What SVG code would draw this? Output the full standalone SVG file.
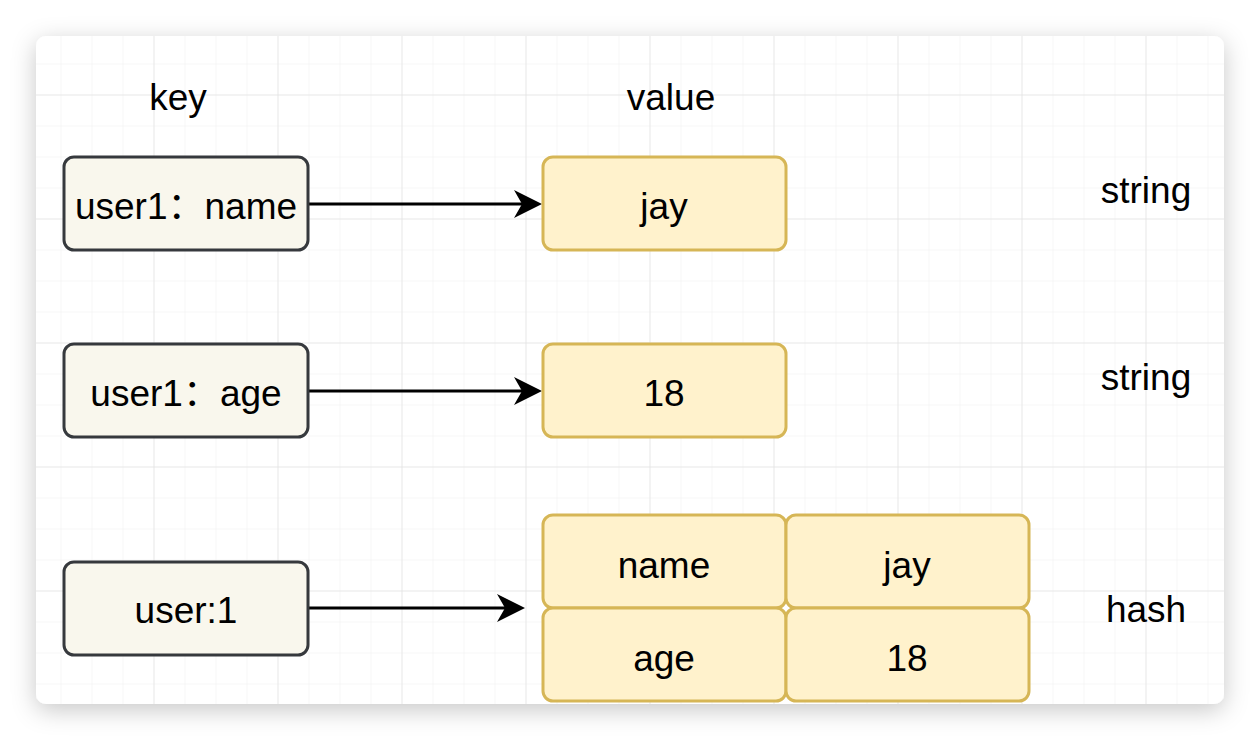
<svg xmlns="http://www.w3.org/2000/svg" width="1260" height="740" viewBox="0 0 1260 740">
  <defs>
    <filter id="shadow" x="-10%" y="-10%" width="120%" height="125%">
      <feDropShadow dx="0" dy="6" stdDeviation="12" flood-color="#000" flood-opacity="0.22"/>
    </filter>
    <pattern id="minor" patternUnits="userSpaceOnUse" width="31" height="31" x="29.5" y="32.5">
      <path d="M31,0 L0,0 L0,31" fill="none" stroke="#efefef" stroke-width="1"/>
    </pattern>
    <pattern id="major" patternUnits="userSpaceOnUse" width="124" height="124" x="29.5" y="-29.5">
      <path d="M124,0 L0,0 L0,124" fill="none" stroke="#dcdcdc" stroke-width="1"/>
    </pattern>
    <marker id="arrow" markerUnits="userSpaceOnUse" viewBox="0 0 28 28" refX="18" refY="14" markerWidth="28" markerHeight="28" orient="auto">
      <path d="M0,0 L28,14 L0,28 L8,14 Z" fill="#000"/>
    </marker>
    <style>
      text { font-family: "Liberation Sans", Arial, "Noto Sans CJK SC", sans-serif; font-size: 37px; fill: #000; text-anchor: middle; }
      .key { fill: #f9f7ed; stroke: #36393d; stroke-width: 3; }
      .val { fill: #fff2cc; stroke: #d6b656; stroke-width: 3; }
      .edge { fill: none; stroke: #000; stroke-width: 3; marker-end: url(#arrow); }
    </style>
  </defs>

  <rect x="0" y="0" width="1260" height="740" fill="#ffffff"/>
  <rect x="36" y="36" width="1188" height="668" rx="10" fill="#ffffff" filter="url(#shadow)"/>
  <rect x="36" y="36" width="1188" height="668" rx="10" fill="url(#minor)"/>
  <rect x="36" y="36" width="1188" height="668" rx="10" fill="url(#major)"/>

  <g id="labels">
    <text x="178" y="110">key</text>
    <text x="671" y="110">value</text>
    <text x="1146" y="203">string</text>
    <text x="1146" y="390">string</text>
    <text x="1146" y="622">hash</text>
  </g>

  <g id="connectors">
    <path class="edge" d="M308,204 L532,204"/>
    <path class="edge" d="M308,391 L532,391"/>
    <path class="edge" d="M308,608 L515,608"/>
  </g>

  <g id="key-user1-name">
    <rect class="key" x="64" y="157" width="244" height="93" rx="10"/>
    <text x="186" y="219">user1：name</text>
  </g>
  <g id="val-jay">
    <rect class="val" x="543" y="157" width="243" height="93" rx="10"/>
    <text x="664" y="219">jay</text>
  </g>

  <g id="key-user1-age">
    <rect class="key" x="64" y="344" width="244" height="93" rx="10"/>
    <text x="186" y="406">user1：age</text>
  </g>
  <g id="val-18">
    <rect class="val" x="543" y="344" width="243" height="93" rx="10"/>
    <text x="664" y="406">18</text>
  </g>

  <g id="key-user-1">
    <rect class="key" x="64" y="562" width="244" height="93" rx="10"/>
    <text x="186" y="623">user:1</text>
  </g>

  <g id="hash-name">
    <rect class="val" x="543" y="515" width="243" height="93" rx="10"/>
    <text x="664" y="578">name</text>
  </g>
  <g id="hash-jay">
    <rect class="val" x="786" y="515" width="243" height="93" rx="10"/>
    <text x="907" y="578">jay</text>
  </g>
  <g id="hash-age">
    <rect class="val" x="543" y="608" width="243" height="93" rx="10"/>
    <text x="664" y="671">age</text>
  </g>
  <g id="hash-18">
    <rect class="val" x="786" y="608" width="243" height="93" rx="10"/>
    <text x="907" y="671">18</text>
  </g>
</svg>
